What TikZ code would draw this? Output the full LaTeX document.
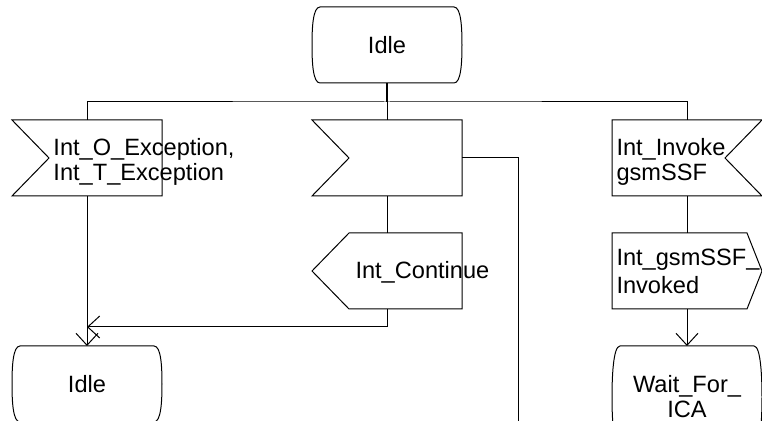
\documentclass[tikz,border=0pt]{standalone}
\usepackage{fontspec}
\setmainfont{Liberation Sans}
\usetikzlibrary{calc,arrows.meta}

\tikzset{
    sdl/.style={minimum width=75pt, minimum height=38pt, inner sep=0pt, outer sep=0pt},
    lbl/.style={inner sep=0pt, align=left, anchor=base west},
    arr/.style={-{Straight Barb[length=6pt,width=11pt]}},
}

\begin{document}
\begin{tikzpicture}[x=0.5pt, y=-0.5pt, line width=0.5pt, font=\fontsize{11.8}{12.5}\selectfont]
    \useasboundingbox (0,0) rectangle (762,421);
    \clip (0,0) rectangle (762,421);
    % states
    \node[sdl] (idleA) at (387,45) {Idle};
    \node[sdl] (idleB) at (87,384) {Idle};
    \node[sdl, minimum height=51pt, align=center] (wait) at (687,397) {Wait\_For\_\\ICA};
    \foreach \n in {idleA,idleB,wait}
        \draw ($(\n.north west)+(8,0)$) -- ($(\n.north east)+(-8,0)$)
            .. controls +(7,0) and +(0,-18) .. (\n.east)
            .. controls +(0,18) and +(7,0) .. ($(\n.south east)+(-8,0)$)
            -- ($(\n.south west)+(8,0)$)
            .. controls +(-7,0) and +(0,18) .. (\n.west)
            .. controls +(0,-18) and +(-7,0) .. cycle;
    % inputs
    \node[sdl] (exc) at (87,158) {};
    \node[sdl] (sig) at (387,158) {};
    \node[sdl] (inv) at (687,158) {};
    \foreach \n in {exc,sig}
        \draw (\n.north west) -- (\n.north east) -- (\n.south east) -- (\n.south west)
            -- ($(\n.west)+(37,0)$) -- cycle;
    \draw (inv.north west) -- (inv.north east) -- ($(inv.east)+(-37,0)$)
        -- (inv.south east) -- (inv.south west) -- cycle;
    % outputs
    \node[sdl] (cont) at (387,271) {};
    \node[sdl] (invd) at (687,271) {};
    \draw ($(cont.north west)+(37,0)$) -- (cont.north east) -- (cont.south east)
        -- ($(cont.south west)+(37,0)$) -- (cont.west) -- cycle;
    \draw (invd.north west) -- ($(invd.north east)+(-15,0)$) -- (invd.east)
        -- ($(invd.south east)+(-15,0)$) -- (invd.south west) -- cycle;
    % texts (base = last line)
    \node[lbl] (excT) at (53,181) {Int\_O\_Exception,\\Int\_T\_Exception};
    \node[lbl] (invT) at (616,181) {Int\_Invoke\\gsmSSF};
    \node[lbl] (contT) at (355,279) {Int\_Continue};
    \node[lbl] (invdT) at (616,294) {Int\_gsmSSF\_\\[1.5pt]Invoked};
    % connectors
    \coordinate (bar) at (387,102);
    \coordinate (join) at (87,327);
    \coordinate (down) at (518,421);
    \draw[line width=0.9pt] (idleA.south) -- (bar);
    \draw (exc.north) |- (bar) -| (inv.north);
    \draw (bar) -- (sig.north);
    \draw (sig.south) -- (cont.north);
    \draw[arr] (cont.south) |- (join);
    \draw[arr] (exc.south) -- (idleB.north);
    \draw (sig.east) -| (down);
    \draw (inv.south) -- (invd.north);
    \draw[arr] (invd.south) -- (wait.north);
\end{tikzpicture}
\end{document}
